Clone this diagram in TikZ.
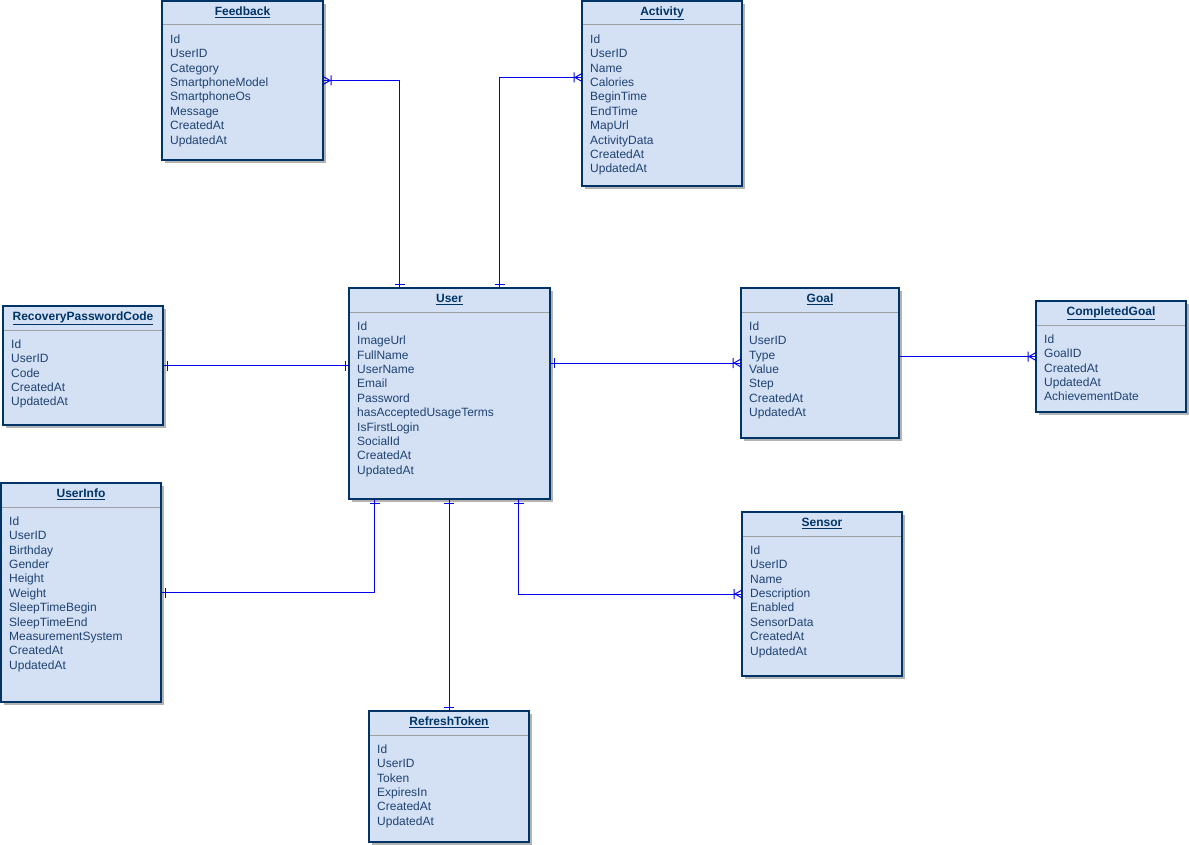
\documentclass[tikz,border=0pt]{standalone}
\usepackage{fontspec}
\setmainfont{Liberation Sans}
\usetikzlibrary{calc}
\definecolor{entfill}{HTML}{D4E1F5}
\definecolor{entline}{HTML}{003366}
\definecolor{enttext}{HTML}{1F4272}
\definecolor{sepline}{HTML}{A0A0A0}
\definecolor{shade}{HTML}{B3B3B3}
\definecolor{relc}{HTML}{0000EE}
\tikzset{
 ent/.style={draw=entline, fill=entfill, line width=1.2pt, inner sep=0pt, outer sep=0pt, rectangle},
 ttl/.style={font=\fontsize{12}{14}\selectfont\bfseries, text=entline, inner sep=0pt, anchor=base},
 attr/.style={font=\fontsize{12}{14}\selectfont, text=enttext, inner sep=0pt, anchor=base west},
 rel/.style={draw=relc, line width=1pt},
 sepl/.style={draw=sepline, line width=1pt},
 shadowbox/.style={fill=shade}
}
% name, x, y, w, h, title, attributes
\newcommand\entity[7]{%
 \fill[shadowbox] (#2+3,#3+3) rectangle ++(#4,#5);
 \node[ent, minimum width=#4pt, minimum height=#5pt, anchor=north west] (#1) at (#2,#3) {};
 \draw[sepl] (#2+1,#3+24) -- ++(#4-2,0);
 \node[ttl] (#1-title) at (#2+#4/2,#3+14.8) {\underline{#6}};
 \foreach \aname [count=\i] in {#7} {\node[attr] (#1-\i) at (#2+8,#3+27.9+14.4*\i) {\aname};}
}
% coordinate on edge, unit vector away from box
\newcommand\crowfoot[3]{%
 \draw[rel] ($(#1)+(7*#2,7*#3)$) -- ($(#1)+(4*#3,4*#2)$)
            ($(#1)+(7*#2,7*#3)$) -- ($(#1)+(-4*#3,-4*#2)$)
            ($(#1)+(8*#2+5*#3,8*#3+5*#2)$) -- ($(#1)+(8*#2-5*#3,8*#3-5*#2)$);
}
\newcommand\onebar[3]{%
 \draw[rel] ($(#1)+(4*#2+5*#3,4*#3+5*#2)$) -- ($(#1)+(4*#2-5*#3,4*#3-5*#2)$);
}
\begin{document}
\begin{tikzpicture}[x=1pt,y=-1pt]
\useasboundingbox (0,0) rectangle (1189,845);
\entity{Feedback}{162}{1}{161}{159}{Feedback}{Id,UserID,Category,SmartphoneModel,SmartphoneOs,Message,CreatedAt,UpdatedAt}
\entity{Activity}{582}{1}{160}{185}{Activity}{Id,UserID,Name,Calories,BeginTime,EndTime,MapUrl,ActivityData,CreatedAt,UpdatedAt}
\entity{User}{349}{288}{201}{211}{User}{Id,ImageUrl,FullName,UserName,Email,Password,hasAcceptedUsageTerms,IsFirstLogin,SocialId,CreatedAt,UpdatedAt}
\entity{Goal}{741}{288}{158}{150}{Goal}{Id,UserID,Type,Value,Step,CreatedAt,UpdatedAt}
\entity{CG}{1036}{301}{150}{111}{CompletedGoal}{Id,GoalID,CreatedAt,UpdatedAt,AchievementDate}
\entity{RPC}{3}{306}{160}{119}{RecoveryPasswordCode}{Id,UserID,Code,CreatedAt,UpdatedAt}
\entity{UserInfo}{1}{483}{160}{219}{UserInfo}{Id,UserID,Birthday,Gender,Height,Weight,SleepTimeBegin,SleepTimeEnd,MeasurementSystem,CreatedAt,UpdatedAt}
\entity{Sensor}{742}{512}{160}{164}{Sensor}{Id,UserID,Name,Description,Enabled,SensorData,CreatedAt,UpdatedAt}
\entity{RT}{369}{711}{160}{131}{RefreshToken}{Id,UserID,Token,ExpiresIn,CreatedAt,UpdatedAt}

% connectors
\coordinate (uTopL) at ($(User.north)+(-50,0)$);
\coordinate (uTopR) at ($(User.north)+(50,0)$);
\coordinate (actL) at ($(Activity.west)+(0,-16)$);
\coordinate (uL) at (RPC.east -| User.west);
\coordinate (uR) at (Goal.west -| User.east);
\coordinate (gR) at (CG.west -| Goal.east);
\coordinate (uBL) at ($(User.south)+(-75,0)$);
\coordinate (uBM) at (RT.north |- User.south);
\coordinate (uBR) at ($(User.south)+(69,0)$);

\draw[rel] (Feedback.east) -| (uTopL);
\crowfoot{Feedback.east}{1}{0}
\onebar{uTopL}{0}{-1}

\draw[rel] (uTopR) |- (actL);
\crowfoot{actL}{-1}{0}
\onebar{uTopR}{0}{-1}

\draw[rel] (RPC.east) -- (uL);
\onebar{RPC.east}{1}{0}
\onebar{uL}{-1}{0}

\draw[rel] (uR) -- (Goal.west);
\onebar{uR}{1}{0}
\crowfoot{Goal.west}{-1}{0}

\draw[rel] (gR) -- (CG.west);
\crowfoot{CG.west}{-1}{0}

\draw[rel] (UserInfo.east) -| (uBL);
\onebar{UserInfo.east}{1}{0}
\onebar{uBL}{0}{1}

\draw[rel] (uBM) -- (RT.north);
\onebar{uBM}{0}{1}
\onebar{RT.north}{0}{-1}

\draw[rel] (uBR) |- (Sensor.west);
\onebar{uBR}{0}{1}
\crowfoot{Sensor.west}{-1}{0}
\end{tikzpicture}
\end{document}
